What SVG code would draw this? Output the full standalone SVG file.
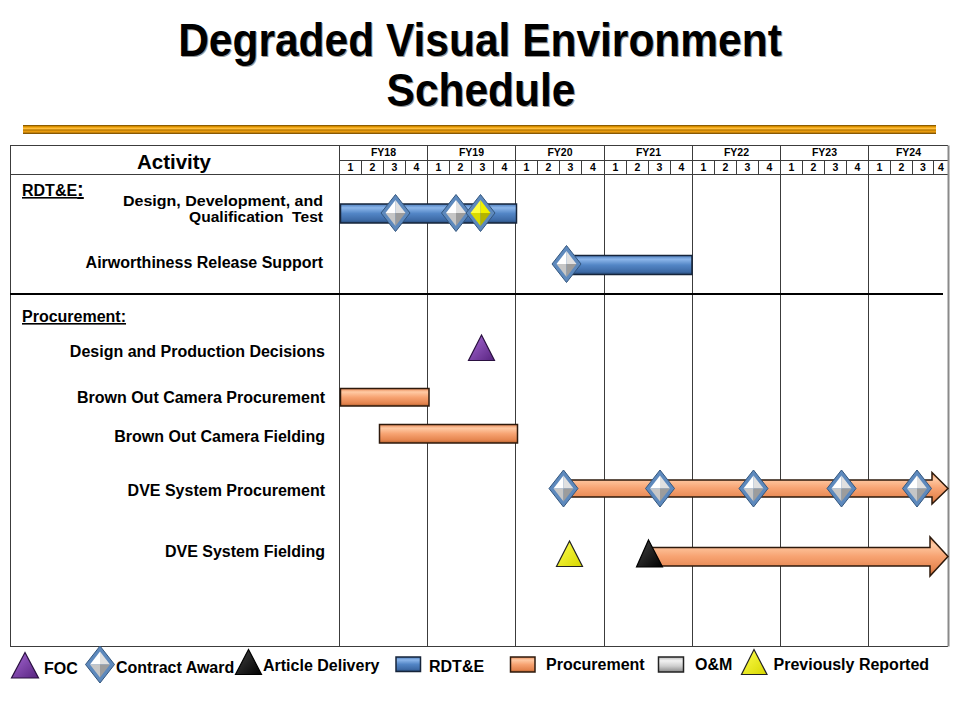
<svg xmlns="http://www.w3.org/2000/svg" width="960" height="720" viewBox="0 0 960 720">
<style>
text{font-family:"Liberation Sans",Arial,sans-serif;font-weight:bold;fill:#000}
.ttl{font-size:42.5px;text-anchor:middle}
.shd{fill:#9a9a9a}
.lbl{font-size:16px;text-anchor:end}
.sec{font-size:16px;text-decoration:underline}
.fy{font-size:10.5px;text-anchor:middle}
.q{font-size:10.5px;text-anchor:middle}
.leg{font-size:16px}
.grid{stroke:#3c3c3c;stroke-width:1;fill:none}
.blue{fill:url(#gBlue);stroke:#16243a;stroke-width:1.5}
.orange{fill:url(#gOrange);stroke:#2e1a0c;stroke-width:1.5}
.gray{fill:url(#gGray);stroke:#222;stroke-width:1.5}
</style>
<defs>
<linearGradient id="gBar" x1="0" y1="0" x2="0" y2="1">
<stop offset="0" stop-color="#6a4500"/>
<stop offset="0.2" stop-color="#e89a00"/>
<stop offset="0.4" stop-color="#ffc040"/>
<stop offset="0.55" stop-color="#b87800"/>
<stop offset="0.75" stop-color="#f0a010"/>
<stop offset="1" stop-color="#6a4500"/>
</linearGradient>
<linearGradient id="gBlue" x1="0" y1="0" x2="0" y2="1">
<stop offset="0" stop-color="#4c7cbc"/>
<stop offset="0.2" stop-color="#8cb6ea"/>
<stop offset="0.5" stop-color="#5386c6"/>
<stop offset="0.85" stop-color="#3d6aa6"/>
<stop offset="1" stop-color="#284a78"/>
</linearGradient>
<linearGradient id="gOrange" x1="0" y1="0" x2="0" y2="1">
<stop offset="0" stop-color="#e88a58"/>
<stop offset="0.2" stop-color="#ffcaa4"/>
<stop offset="0.5" stop-color="#f7a372"/>
<stop offset="0.85" stop-color="#e4844e"/>
<stop offset="1" stop-color="#b0602e"/>
</linearGradient>
<linearGradient id="gGray" x1="0" y1="0" x2="0" y2="1">
<stop offset="0" stop-color="#b8b8b8"/>
<stop offset="0.25" stop-color="#f2f2f2"/>
<stop offset="0.6" stop-color="#cfcfcf"/>
<stop offset="1" stop-color="#8a8a8a"/>
</linearGradient>
<linearGradient id="gPurple" x1="0" y1="0" x2="1" y2="1">
<stop offset="0" stop-color="#a86ad6"/>
<stop offset="1" stop-color="#57237f"/>
</linearGradient>
<linearGradient id="gYellow" x1="0" y1="0" x2="1" y2="1">
<stop offset="0" stop-color="#ffff50"/>
<stop offset="1" stop-color="#d6d600"/>
</linearGradient>
<linearGradient id="gBlack" x1="0" y1="0" x2="1" y2="1">
<stop offset="0" stop-color="#444"/>
<stop offset="1" stop-color="#000"/>
</linearGradient>
<g id="diaW">
<polygon points="0,-18.5 14.5,0 0,18.5 -14.5,0" fill="#5d89bd" stroke="#33567e" stroke-width="1"/>
<polygon points="0,-13 -10,0 0,0" fill="#ffffff"/>
<polygon points="0,-13 10,0 0,0" fill="#e0e0e0"/>
<polygon points="-10,0 0,13 0,0" fill="#c6c6c6"/>
<polygon points="10,0 0,13 0,0" fill="#9c9c9c"/>
</g>
<g id="diaY">
<polygon points="0,-18.5 14.5,0 0,18.5 -14.5,0" fill="#5d89bd" stroke="#33567e" stroke-width="1"/>
<polygon points="0,-13 -10,0 0,0" fill="#ffff40"/>
<polygon points="0,-13 10,0 0,0" fill="#f0f000"/>
<polygon points="-10,0 0,13 0,0" fill="#dada00"/>
<polygon points="10,0 0,13 0,0" fill="#b4b400"/>
</g>
</defs>
<rect width="960" height="720" fill="#fff"/>

<g id="title">
<text class="ttl shd" transform="translate(481,57) scale(1,1.08)">Degraded Visual Environment</text>
<text class="ttl" transform="translate(480,56) scale(1,1.08)">Degraded Visual Environment</text>
<text class="ttl shd" transform="translate(482,107) scale(1,1.08)">Schedule</text>
<text class="ttl" transform="translate(481,106) scale(1,1.08)">Schedule</text>
<rect x="23" y="125" width="913" height="9" fill="url(#gBar)"/>
</g>

<g id="table">
<line class="grid" x1="10" y1="145.5" x2="948" y2="145.5"/>
<line class="grid" x1="339.5" y1="160.5" x2="948" y2="160.5"/>
<line class="grid" x1="10" y1="174.5" x2="948" y2="174.5"/>
<line class="grid" x1="10" y1="646.5" x2="948" y2="646.5"/>
<line class="grid" x1="10.5" y1="145.5" x2="10.5" y2="646.5"/>
<line x1="948.5" y1="145.5" x2="948.5" y2="646.5" stroke="#8a8a8a" stroke-width="2"/>
<g class="grid">
<line x1="339.5" y1="145.5" x2="339.5" y2="646.5"/>
<line x1="427.5" y1="145.5" x2="427.5" y2="646.5"/>
<line x1="515.5" y1="145.5" x2="515.5" y2="646.5"/>
<line x1="604.5" y1="145.5" x2="604.5" y2="646.5"/>
<line x1="692.5" y1="145.5" x2="692.5" y2="646.5"/>
<line x1="780.5" y1="145.5" x2="780.5" y2="646.5"/>
<line x1="868.5" y1="145.5" x2="868.5" y2="646.5"/>
<path d="M361.5 160.5V174.5M383.5 160.5V174.5M405.5 160.5V174.5M449.5 160.5V174.5M471.5 160.5V174.5M493.5 160.5V174.5M537.5 160.5V174.5M559.5 160.5V174.5M581.5 160.5V174.5M626.5 160.5V174.5M648.5 160.5V174.5M670.5 160.5V174.5M714.5 160.5V174.5M736.5 160.5V174.5M758.5 160.5V174.5M802.5 160.5V174.5M824.5 160.5V174.5M846.5 160.5V174.5M890.5 160.5V174.5M912.5 160.5V174.5M933.5 160.5V174.5"/>
</g>
<line x1="10" y1="294" x2="943" y2="294" stroke="#000" stroke-width="2"/>
<text x="174" y="169" style="font-size:20.5px;text-anchor:middle">Activity</text>
<text class="fy" x="383.5" y="156">FY18</text>
<text class="fy" x="471.5" y="156">FY19</text>
<text class="fy" x="560" y="156">FY20</text>
<text class="fy" x="648.5" y="156">FY21</text>
<text class="fy" x="736.5" y="156">FY22</text>
<text class="fy" x="824.5" y="156">FY23</text>
<text class="fy" x="908.5" y="156">FY24</text>
<g class="q">
<text x="350.5" y="171">1</text><text x="372.5" y="171">2</text><text x="394.5" y="171">3</text><text x="416.5" y="171">4</text>
<text x="438.5" y="171">1</text><text x="460.5" y="171">2</text><text x="482.5" y="171">3</text><text x="504.5" y="171">4</text>
<text x="526.5" y="171">1</text><text x="548.5" y="171">2</text><text x="570.5" y="171">3</text><text x="593" y="171">4</text>
<text x="615.5" y="171">1</text><text x="637.5" y="171">2</text><text x="659.5" y="171">3</text><text x="681.5" y="171">4</text>
<text x="703.5" y="171">1</text><text x="725.5" y="171">2</text><text x="747.5" y="171">3</text><text x="769.5" y="171">4</text>
<text x="791.5" y="171">1</text><text x="813.5" y="171">2</text><text x="835.5" y="171">3</text><text x="857.5" y="171">4</text>
<text x="879.5" y="171">1</text><text x="901.5" y="171">2</text><text x="923" y="171">3</text><text x="941" y="171">4</text>
</g>
</g>

<g id="sec-rdte">
<text class="sec" x="22" y="196">RDT&amp;E<tspan style="font-size:20px">:</tspan></text>
</g>

<g id="row-ddqt">
<text class="lbl" x="323" y="205.5" style="font-size:15px" textLength="200" lengthAdjust="spacingAndGlyphs">Design, Development, and</text>
<text class="lbl" x="323" y="222" style="font-size:15px" textLength="134" lengthAdjust="spacingAndGlyphs" xml:space="preserve">Qualification  Test</text>
<rect class="blue" x="340.5" y="204" width="176" height="19"/>
<use href="#diaW" x="395.5" y="213"/>
<use href="#diaW" x="456" y="213"/>
<use href="#diaY" x="480.5" y="213"/>
</g>

<g id="row-ars">
<text class="lbl" x="323" y="267.5">Airworthiness Release Support</text>
<rect class="blue" x="567" y="255.5" width="125" height="19"/>
<use href="#diaW" x="566.5" y="264"/>
</g>

<g id="sec-proc">
<text class="sec" x="22" y="322">Procurement:</text>
</g>

<g id="row-dpd">
<text class="lbl" x="325" y="357">Design and Production Decisions</text>
<polygon points="481.5,335 494.5,360.5 468.5,360.5" fill="url(#gPurple)" stroke="#2a1040" stroke-width="1.2"/>
</g>

<g id="row-bocp">
<text class="lbl" x="325" y="403">Brown Out Camera Procurement</text>
<rect class="orange" x="340.5" y="388.5" width="88.5" height="17.5"/>
</g>

<g id="row-bocf">
<text class="lbl" x="325" y="441.5">Brown Out Camera Fielding</text>
<rect class="orange" x="379.5" y="424.5" width="138" height="18.5"/>
</g>

<g id="row-dvep">
<text class="lbl" x="325" y="496">DVE System Procurement</text>
<polygon class="orange" points="563,480 932,480 932,472.5 948,488.5 932,504 932,497 563,497"/>
<use href="#diaW" x="563.5" y="488.5"/>
<use href="#diaW" x="660" y="488.5"/>
<use href="#diaW" x="753.5" y="488.5"/>
<use href="#diaW" x="841.5" y="488.5"/>
<use href="#diaW" x="917" y="488.5"/>
</g>

<g id="row-dvef">
<text class="lbl" x="325" y="557">DVE System Fielding</text>
<polygon points="569.5,541 582.5,566.5 556.5,566.5" fill="url(#gYellow)" stroke="#222" stroke-width="1.2"/>
<polygon class="orange" points="652,547.5 930,547.5 930,537 948,556.5 930,576 930,566 652,566"/>
<polygon points="648.5,540 662.5,567 636.5,567" fill="url(#gBlack)" stroke="#000" stroke-width="1.2"/>
</g>

<g id="legend">
<polygon points="25,652.5 38.5,678 11.5,678" fill="url(#gPurple)" stroke="#2a1040" stroke-width="1.2"/>
<text class="leg" x="44" y="673.5">FOC</text>
<use href="#diaW" x="100" y="664.5"/>
<text class="leg" x="116" y="672.5">Contract Award</text>
<polygon points="248.5,649.5 261.5,674.5 235.5,674.5" fill="url(#gBlack)" stroke="#000" stroke-width="1.2"/>
<text class="leg" x="263" y="670.5">Article Delivery</text>
<rect class="blue" x="396" y="657" width="24.5" height="14.5"/>
<text class="leg" x="429" y="672">RDT&amp;E</text>
<rect class="orange" x="510.5" y="657" width="24.5" height="15"/>
<text class="leg" x="546" y="669.5">Procurement</text>
<rect class="gray" x="658.5" y="657" width="25" height="15"/>
<text class="leg" x="695" y="669.5">O&amp;M</text>
<polygon points="754,649.5 767,674.5 741.5,674.5" fill="url(#gYellow)" stroke="#222" stroke-width="1.2"/>
<text class="leg" x="773.5" y="669.5">Previously Reported</text>
</g>
</svg>
